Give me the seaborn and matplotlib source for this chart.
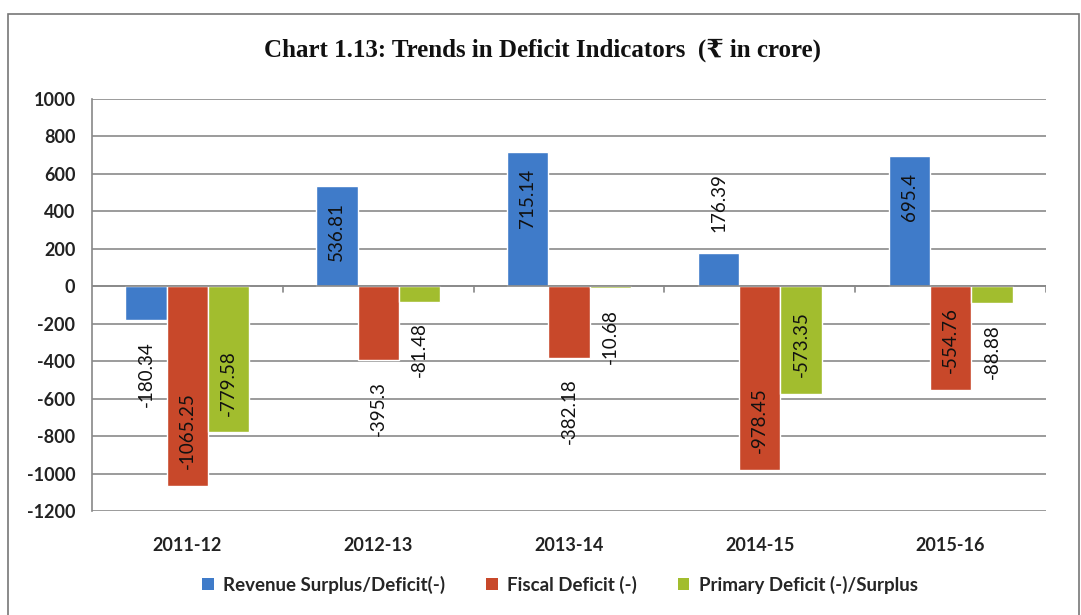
"""Chart 1.13: Trends in Deficit Indicators -- grouped bars with rotated value labels."""

import matplotlib

matplotlib.use("Agg")

import matplotlib.pyplot as plt
import pandas as pd
import seaborn as sns
from matplotlib.patches import Patch, Rectangle

years = ["2011-12", "2012-13", "2013-14", "2014-15", "2015-16"]
series = [
    "Revenue Surplus/Deficit(-)",
    "Fiscal Deficit (-)",
    "Primary Deficit (-)/Surplus",
]
revenue = [-180.34, 536.81, 715.14, 176.39, 695.4]
fiscal = [-1065.25, -395.3, -382.18, -978.45, -554.76]
primary = [-779.58, -81.48, -10.68, -573.35, -88.88]
label_text = {
    "Revenue Surplus/Deficit(-)": ["-180.34", "536.81", "715.14", "176.39", "695.4"],
    "Fiscal Deficit (-)": ["-1065.25", "-395.3", "-382.18", "-978.45", "-554.76"],
    "Primary Deficit (-)/Surplus": ["-779.58", "-81.48", "-10.68", "-573.35", "-88.88"],
}
yticks = list(range(-1200, 1001, 200))

colors = ["#3f7bc9", "#c8482a", "#a2bd2e"]

df = pd.DataFrame(
    {
        "year": years * 3,
        "series": [series[0]] * 5 + [series[1]] * 5 + [series[2]] * 5,
        "value": revenue + fiscal + primary,
    }
)

sns.set_theme(style="white")
plt.rcParams["font.family"] = ["Lato", "DejaVu Sans"]

fig = plt.figure(figsize=(10.81, 6.15), dpi=100)
ax = fig.add_axes([92 / 1081, 1 - 511 / 615, (1046 - 92) / 1081, (511 - 99) / 615])

sns.barplot(
    data=df,
    x="year",
    y="value",
    hue="series",
    palette=colors,
    width=0.65,
    gap=0,
    saturation=1,
    legend=False,
    ax=ax,
)

ax.set_ylim(-1200, 1000)
ax.set_xlim(-0.5, len(years) - 0.5)
ax.set_yticks(yticks)
ax.set_yticklabels([str(t) for t in yticks], fontsize=13, fontweight="bold", color="#222222")
ax.set_xlabel("")
ax.set_ylabel("")
ax.tick_params(axis="x", length=0, pad=19, labelsize=13)
for t in ax.get_xticklabels():
    t.set_fontweight("bold")
    t.set_color("#222222")
ax.tick_params(axis="y", length=6, width=1, color="#888888", direction="out", pad=6)

ax.grid(axis="y", color="#8a8a8a", linewidth=1.2)
ax.set_axisbelow(True)
for side in ["top", "right", "bottom"]:
    ax.spines[side].set_visible(False)
ax.spines["left"].set_color("#888888")
ax.spines["left"].set_linewidth(1.2)

# zero axis line with group boundary ticks
ax.axhline(0, color="#888888", linewidth=1.2, zorder=1)
for b in range(1, len(years) + 1):
    ax.plot([b - 0.5, b - 0.5], [0, -30], color="#888888", linewidth=1.2, zorder=1)

# value labels: inside the end for long bars, outside for short ones
for cont, name in zip(ax.containers, series):
    for rect, txt in zip(cont.patches, label_text[name]):
        h = rect.get_height()
        x = rect.get_x() + rect.get_width() / 2
        sign = 1 if h >= 0 else -1
        if abs(h) >= 500:
            off = -12 * sign
            va = "top" if h >= 0 else "bottom"
        else:
            off = 15 * sign
            va = "bottom" if h >= 0 else "top"
        ax.annotate(
            txt,
            xy=(x, h),
            xytext=(0, off),
            textcoords="offset points",
            rotation=90,
            ha="center",
            va=va,
            fontsize=13.5,
            color="#111111",
        )

fig.text(
    543 / 1081,
    1 - 50 / 615,
    "Chart 1.13: Trends in Deficit Indicators  (\u20b9 in crore)",
    ha="center",
    va="center",
    fontsize=18,
    fontweight="bold",
    family=["Liberation Serif", "DejaVu Serif", "DejaVu Sans"],
    color="#111111",
)

handles = [Patch(facecolor=c, edgecolor="none") for c in colors]
fig.legend(
    handles,
    series,
    loc="center",
    bbox_to_anchor=(560 / 1081, 1 - 585 / 615),
    ncol=3,
    frameon=False,
    handlelength=0.6,
    handleheight=0.6,
    handletextpad=0.5,
    columnspacing=2.2,
    prop={"size": 13.5, "weight": "bold"},
)

fig.patches.append(
    Rectangle(
        (8 / 1081, -10 / 615),
        (1079 - 8) / 1081,
        (601 + 10) / 615,
        transform=fig.transFigure,
        fill=False,
        edgecolor="#777777",
        linewidth=1.2,
    )
)

fig.savefig("out.png", dpi=100)
plt.close(fig)
